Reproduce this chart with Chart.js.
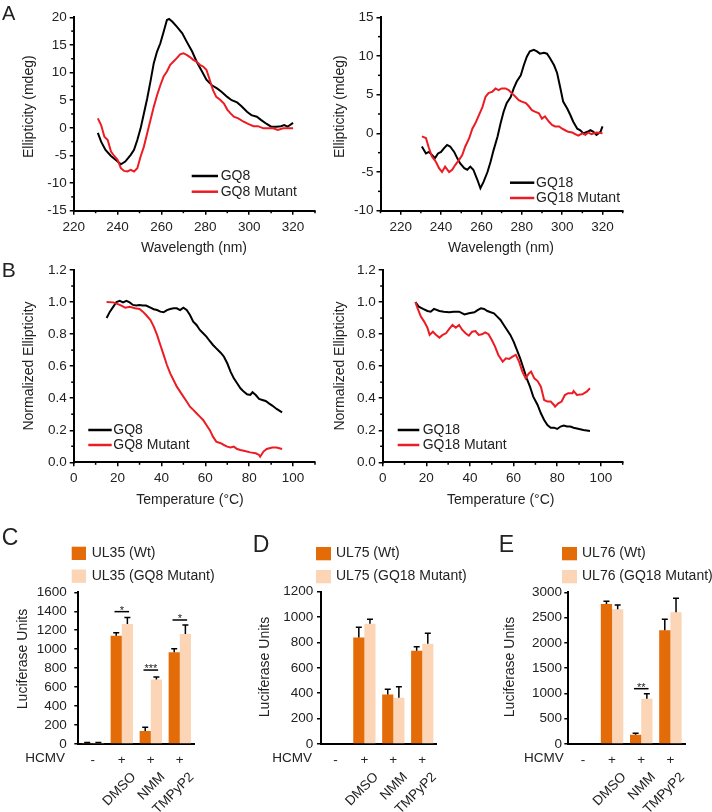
<!DOCTYPE html>
<html>
<head>
<meta charset="utf-8">
<script src="https://cdn.jsdelivr.net/npm/chart.js@4.4.1/dist/chart.umd.min.js"></script>
<style>
  body { margin: 0; background: #fff; width: 712px; height: 812px; position: relative; overflow: hidden; }
  canvas { position: absolute; }
</style>
</head>
<body>
<canvas id="a1"></canvas>
<canvas id="a2"></canvas>
<canvas id="b1"></canvas>
<canvas id="b2"></canvas>
<canvas id="c"></canvas>
<canvas id="d"></canvas>
<canvas id="e"></canvas>
<script>
// ---- panel A: CD spectra (wavelength nm / ellipticity mdeg)
const gq8Wl = [231,232.5,234.5,237,239.5,241.5,243.5,246,247.5,249,250.5,252,253.5,255,256.5,258,259.5,261,262.5,263.5,265,267,269.5,271.5,274,276,278.5,280.5,283,285.5,287.5,290,292,294.5,296.5,299,301,303.5,305.5,308,310,312.5,314.5,316,317.5,320];
const gq8Cd = [-0.9,-2.5,-4.0,-5.1,-5.9,-6.6,-6.1,-4.9,-4.0,-2.2,-0.1,2.6,5.3,8.4,11.7,13.8,15.3,17.4,19.5,19.7,19.2,18.3,17.1,15.6,13.8,12.0,10.2,8.7,7.7,7.1,6.5,5.6,5.0,4.6,3.9,2.9,2.3,2.0,1.4,0.7,0.2,0.2,0.3,0.5,0.2,0.9];
const gq8mWl = [231,232.5,234,235.5,237,238.5,240,241.5,243,244.5,246,247.5,249,250.5,252,253.5,255,256.5,258,259.5,261,262.5,264,265.5,267,268.5,270,271.5,273,274.5,276,277.5,279,280.5,282,283.5,285,287,288.5,290,291.5,293,295,297.5,299.5,302,304,306.5,308.5,311,313,315.5,317.5,320];
const gq8mCd = [1.7,0.5,-1.6,-2.2,-4.3,-5.1,-5.8,-7.3,-7.8,-7.9,-7.6,-7.9,-7.3,-5.2,-3.4,-1.0,1.4,3.8,5.9,7.7,9.3,10.2,11.4,12.0,12.6,13.3,13.5,13.2,12.8,12.3,12.0,11.4,11.1,10.5,8.7,6.8,5.6,5.0,4.4,3.3,2.6,2.0,1.7,1.1,0.7,0.3,0.3,-0.1,-0.1,-0.1,-0.4,-0.1,-0.1,-0.1];
const gq18Wl = [230.5,232.5,234,235.5,237,238.5,240,241.5,243,244.5,246.5,248,249.5,251.5,253,254.5,256,258,259.5,261,263,264.5,266,268,269.5,271,272.5,274.5,276,277.5,279.5,281,282.5,284,286,287.5,289,291,292.5,294,296,297.5,299,300.5,302.5,304,305.5,307.5,309,310.5,312.5,314,315.5,317,319,320];
const gq18Cd = [-1.7,-2.6,-2.4,-2.8,-3.2,-2.6,-2.4,-1.9,-1.5,-1.7,-2.4,-3.2,-3.9,-4.5,-4.7,-4.3,-4.7,-6.0,-7.1,-6.3,-5.0,-3.7,-2.2,-0.4,1.3,2.8,3.9,4.7,5.8,6.7,7.5,8.8,9.9,10.6,10.8,10.6,10.3,10.4,10.3,9.7,8.8,7.8,6.0,4.1,3.2,2.4,1.5,0.6,0.4,0.0,0.2,0.4,0.2,-0.2,0.2,0.9];
const gq18mWl = [230.5,232.5,234,235.5,237.5,239,240.5,242,244,245.5,247,249,250.5,252,254,255.5,257,258.5,260.5,262,263.5,265.5,267,268.5,270,272,273.5,275,277,278.5,280,282,283.5,285,286.5,288.5,290,291.5,293.5,295,296.5,298.5,300,301.5,303,305,306.5,308,310,311.5,313,314.5,317,320];
const gq18mCd = [-0.4,-0.6,-1.9,-3.0,-3.7,-4.5,-5.0,-4.3,-5.0,-4.7,-4.1,-3.4,-2.8,-1.7,-0.6,0.6,1.3,2.2,3.4,4.7,5.2,5.4,5.8,5.6,5.8,5.8,5.6,5.2,4.7,4.3,4.1,3.9,3.5,3.0,2.8,2.6,1.9,2.2,1.5,1.1,0.9,0.9,0.6,0.4,0.2,0.1,-0.1,-0.3,0.0,-0.2,0.1,-0.1,0.1,0.0];

// ---- panel B: melting curves (temperature / normalized ellipticity)
const gq8T = [15,16.5,18,19.5,21,22.5,24,25.5,27,28.5,30,31.5,33,35,36.5,38,39.5,41,42.5,44,45.5,47,48.5,50,51.5,53,54.5,56,57.5,59,60.5,62,63.5,65,67,68.5,70,71.5,73,74.5,76,77.5,79,80.5,81.5,83,84.5,86,87.5,89,90.5,92.5,95];
const gq8Norm = [0.90,0.94,0.97,1.0,1.007,0.998,1.007,0.998,0.982,0.978,0.982,0.978,0.978,0.965,0.955,0.950,0.940,0.936,0.950,0.957,0.961,0.961,0.950,0.965,0.950,0.919,0.878,0.857,0.826,0.805,0.784,0.757,0.732,0.711,0.684,0.659,0.618,0.566,0.524,0.493,0.462,0.441,0.424,0.420,0.437,0.420,0.395,0.389,0.383,0.368,0.354,0.333,0.312];
const gq8mT = [15,18,21,23.5,25.5,28,30,31.5,33,35,36.5,38,39.5,41,42.5,44,45.5,47,48.5,50,51.5,53,54.5,56,57.5,59,60.5,62,63.5,65,67,68.5,70,71.5,73,74.5,76,78,80.5,83,84.5,85,86.5,88,90.5,92.5,95];
const gq8mNorm = [1.0,0.998,0.982,0.965,0.971,0.961,0.957,0.940,0.919,0.888,0.847,0.795,0.732,0.670,0.607,0.555,0.514,0.472,0.441,0.410,0.379,0.347,0.327,0.306,0.285,0.264,0.233,0.202,0.160,0.129,0.119,0.108,0.098,0.092,0.098,0.083,0.077,0.071,0.062,0.056,0.046,0.035,0.067,0.083,0.092,0.092,0.083];
const gq18T = [15,16.5,18.5,20.5,22,23.5,26,28,30.5,32.5,35,37.5,39.5,42,43.5,45,46.5,48,49.5,51,52.5,54,55.5,57,58.5,60,61.5,63,64.5,66,67.5,69,71,72.5,74,75.5,77,78.5,80,81.5,83,84.5,86,87.5,90,92,95];
const gq18Norm = [1.0,0.971,0.957,0.944,0.940,0.957,0.944,0.940,0.936,0.940,0.940,0.923,0.930,0.936,0.950,0.961,0.957,0.944,0.936,0.930,0.909,0.888,0.857,0.826,0.795,0.753,0.701,0.649,0.587,0.524,0.472,0.410,0.358,0.306,0.264,0.233,0.216,0.216,0.208,0.223,0.229,0.223,0.223,0.216,0.208,0.202,0.196];
const gq18mT = [15,16,17.5,19,20.5,21.5,23,24.5,26,27.5,29,30.5,32,33.5,35,36.5,38,39.5,41,42.5,44,45.5,47,48.5,50,51.5,53,55,56.5,58,59.5,61,62.5,64,65.5,67,68,69.5,71,72.5,74,75.5,77,78.5,79,80.5,82,83.5,85,87,87.5,89,91.5,93.5,95];
const gq18mNorm = [1.0,0.961,0.909,0.878,0.840,0.795,0.815,0.795,0.778,0.795,0.805,0.832,0.857,0.840,0.857,0.826,0.805,0.790,0.815,0.819,0.795,0.799,0.811,0.799,0.763,0.722,0.670,0.628,0.649,0.645,0.659,0.670,0.628,0.566,0.524,0.555,0.566,0.524,0.507,0.472,0.389,0.379,0.379,0.358,0.347,0.368,0.379,0.420,0.431,0.431,0.445,0.420,0.424,0.441,0.462];

// tick labels
const wlTicks = [220,240,260,280,300,320];
const cdTicksA1 = [-15,-10,-5,0,5,10,15,20];
const cdTicksA2 = [-10,-5,0,5,10,15];
const tempTicks = [0,20,40,60,80,100];
const normTicks = [0,0.2,0.4,0.6,0.8,1.0,1.2];

// ---- panels C-E: luciferase assays
const hcmv = ['-','+','+','+'];
const drugs = ['','DMSO','NMM','TMPyP2'];
const ul35Wt = [10,1143,137,967];
const ul35WtErr = [5,31,39,38];
const ul35Mut = [12,1266,679,1160];
const ul35MutErr = [5,67,28,95];
const ul75Wt = [0,840,391,735];
const ul75WtErr = [0,79,40,32];
const ul75Mut = [0,948,365,790];
const ul75MutErr = [0,34,87,82];
const ul76Wt = [15,2769,185,2248];
const ul76WtErr = [0,53,26,218];
const ul76Mut = [15,2664,897,2604];
const ul76MutErr = [0,85,99,277];
const sigC = [[1,1396,'*'],[2,780,'***'],[3,1308,'*']];
const sigE = [[2,1094,'**']];

const FONT = '"Liberation Sans", Arial, sans-serif';
const BLACK = '#000', RED = '#ec1c24', DARK = '#e36c09', LIGHT = '#fbd5b5', TXT = '#222';
Chart.defaults.font.family = FONT;
Chart.defaults.font.size = 13.5;
Chart.defaults.color = TXT;
Chart.defaults.animation = false;

function place(id, box) {
  const c = document.getElementById(id);
  c.width = box[2]; c.height = box[3];
  c.style.left = box[0] + 'px'; c.style.top = box[1] + 'px';
  c.style.width = box[2] + 'px'; c.style.height = box[3] + 'px';
  return c;
}

function minorOf(ticks, min, max) {
  const step = ticks[1] - ticks[0], res = [];
  for (let v = ticks[0] - step / 2; v <= max + 1e-9; v += step) if (v >= min - 1e-9) res.push(v);
  return res;
}

// draws texts, legends, minor ticks, error bars ... in page coordinates
function makeDeco(box, spec) {
  return {
    id: 'deco',
    afterDraw(chart) {
      const ctx = chart.ctx, area = chart.chartArea, sx = chart.scales.x, sy = chart.scales.y;
      ctx.save();
      ctx.strokeStyle = BLACK; ctx.lineWidth = 1.5;
      (spec.minorX || []).forEach(v => {
        const p = sx.getPixelForValue(v);
        ctx.beginPath(); ctx.moveTo(p, area.bottom); ctx.lineTo(p, area.bottom + 2.5); ctx.stroke();
      });
      (spec.minorY || []).forEach(v => {
        const p = sy.getPixelForValue(v);
        ctx.beginPath(); ctx.moveTo(area.left, p); ctx.lineTo(area.left - 2.5, p); ctx.stroke();
      });
      // error bars
      (spec.err || []).forEach((errs, di) => {
        const meta = chart.getDatasetMeta(di), vals = chart.data.datasets[di].data;
        meta.data.forEach((bar, j) => {
          if (!errs[j]) return;
          const top = sy.getPixelForValue(vals[j] + errs[j]);
          ctx.beginPath();
          ctx.moveTo(bar.x, bar.y); ctx.lineTo(bar.x, top);
          ctx.moveTo(bar.x - 3, top); ctx.lineTo(bar.x + 3, top);
          ctx.stroke();
        });
      });
      // significance
      (spec.sig || []).forEach(([cat, v, mark]) => {
        const cx = sx.getPixelForValue(cat), py = sy.getPixelForValue(v);
        ctx.beginPath(); ctx.moveTo(cx - 7.3, py); ctx.lineTo(cx + 7.3, py); ctx.stroke();
        ctx.fillStyle = TXT; ctx.font = '11px ' + FONT;
        ctx.textAlign = 'center'; ctx.textBaseline = 'alphabetic';
        ctx.fillText(mark, cx, py + 2);
      });
      // rotated treatment labels
      (spec.drugs || []).forEach((t, i) => {
        if (!t) return;
        const cx = sx.getPixelForValue(i);
        ctx.save();
        ctx.translate(cx + 12, area.bottom + 31);
        ctx.rotate(-Math.PI / 4);
        ctx.fillStyle = TXT; ctx.font = '13.5px ' + FONT;
        ctx.textAlign = 'right'; ctx.textBaseline = 'middle';
        ctx.fillText(t, 0, 0);
        ctx.restore();
      });
      ctx.translate(-box[0], -box[1]);
      (spec.lines || []).forEach(([x1, y1, x2, y2, c]) => {
        ctx.strokeStyle = c; ctx.lineWidth = 2.5;
        ctx.beginPath(); ctx.moveTo(x1, y1); ctx.lineTo(x2, y2); ctx.stroke();
      });
      (spec.rects || []).forEach(([x, y, w, h, c]) => { ctx.fillStyle = c; ctx.fillRect(x, y, w, h); });
      (spec.texts || []).forEach(t => {
        ctx.save();
        ctx.font = (t.font || '14px') + ' ' + FONT;
        ctx.fillStyle = TXT;
        ctx.textAlign = t.align || 'center';
        ctx.textBaseline = t.base || 'middle';
        ctx.translate(t.x, t.y);
        if (t.rot) ctx.rotate(t.rot);
        ctx.fillText(t.t, 0, 0);
        ctx.restore();
      });
      ctx.restore();
    }
  };
}

function frame(box, plot) {
  return {
    yW: plot[0] - box[0],
    xH: box[1] + box[3] - plot[3],
    top: plot[2] - box[1],
    right: box[0] + box[2] - plot[1]
  };
}

function pts(xs, ys) { return xs.map((x, i) => ({ x: x, y: ys[i] })); }

function lineChart(id, box, plot, xr, xTicks, yr, yTicks, fmtY, series, spec) {
  const f = frame(box, plot);
  spec.minorX = minorOf(xTicks, xr[0], xr[1]);
  spec.minorY = minorOf(yTicks, yr[0], yr[1]);
  new Chart(place(id, box), {
    type: 'line',
    data: {
      datasets: series.map(s => ({
        data: pts(s[0], s[1]), borderColor: s[2], borderWidth: 2,
        pointRadius: 0, tension: 0, fill: false
      }))
    },
    options: {
      responsive: false, events: [],
      layout: { padding: { left: 0, top: f.top, right: f.right, bottom: 0 } },
      plugins: { legend: { display: false }, tooltip: { enabled: false } },
      scales: {
        x: {
          type: 'linear', min: xr[0], max: xr[1],
          afterBuildTicks: s => { s.ticks = xTicks.map(v => ({ value: v })); },
          afterFit: s => { s.height = f.xH; },
          ticks: { padding: 4, maxRotation: 0, autoSkip: false, callback: v => String(v) },
          grid: { drawOnChartArea: false, tickLength: 4, color: BLACK, lineWidth: 1.5 },
          border: { color: BLACK, width: 2 }
        },
        y: {
          min: yr[0], max: yr[1],
          afterBuildTicks: s => { s.ticks = yTicks.map(v => ({ value: v })); },
          afterFit: s => { s.width = f.yW; },
          ticks: { padding: 3, autoSkip: false, callback: fmtY },
          grid: { drawOnChartArea: false, tickLength: 4, color: BLACK, lineWidth: 1.5 },
          border: { color: BLACK, width: 2 }
        }
      }
    },
    plugins: [makeDeco(box, spec)]
  });
}

function barChart(id, box, plot, wt, mut, yMax, yStep, yPad, spec) {
  const f = frame(box, plot);
  new Chart(place(id, box), {
    type: 'bar',
    data: {
      labels: hcmv,
      datasets: [
        { data: wt, backgroundColor: DARK, categoryPercentage: 0.77, barPercentage: 1 },
        { data: mut, backgroundColor: LIGHT, categoryPercentage: 0.77, barPercentage: 1 }
      ]
    },
    options: {
      responsive: false, events: [],
      layout: { padding: { left: 0, top: f.top, right: f.right, bottom: 0 } },
      plugins: { legend: { display: false }, tooltip: { enabled: false } },
      scales: {
        x: {
          afterFit: s => { s.height = f.xH; },
          ticks: { padding: 8, maxRotation: 0 },
          grid: { display: false, drawTicks: false },
          border: { color: BLACK, width: 2 }
        },
        y: {
          min: 0, max: yMax,
          afterFit: s => { s.width = f.yW; },
          ticks: { stepSize: yStep, padding: yPad, autoSkip: false, callback: v => String(v) },
          grid: { drawOnChartArea: false, tickLength: 4, color: BLACK, lineWidth: 1.5 },
          border: { color: BLACK, width: 2 }
        }
      }
    },
    plugins: [makeDeco(box, spec)]
  });
}

const rot = -Math.PI / 2;
const fmtInt = v => String(v);
const fmt1 = v => v.toFixed(1);

lineChart('a1', [0, 0, 326, 255], [73.7, 315, 17.3, 210.7], [220, 330], wlTicks, [-15, 20], cdTicksA1, fmtInt,
  [[gq8mWl, gq8mCd, RED], [gq8Wl, gq8Cd, BLACK]],
  {
    lines: [[191.7, 176, 218, 176, BLACK], [191.7, 191.7, 218, 191.7, RED]],
    texts: [
      { t: 'A', x: 2, y: 20, font: '20px', align: 'left', base: 'alphabetic' },
      { t: 'Ellipticity (mdeg)', x: 28.8, y: 106.7, rot: rot },
      { t: 'Wavelength (nm)', x: 194, y: 248 },
      { t: 'GQ8', x: 220.7, y: 176, align: 'left' },
      { t: 'GQ8 Mutant', x: 220.7, y: 191.7, align: 'left' }
    ]
  });

lineChart('a2', [326, 0, 386, 255], [380.5, 622.7, 17.3, 210.7], [210, 330], wlTicks, [-10, 15], cdTicksA2, fmtInt,
  [[gq18mWl, gq18mCd, RED], [gq18Wl, gq18Cd, BLACK]],
  {
    lines: [[510, 182.7, 534.3, 182.7, BLACK], [510, 198, 534.3, 198, RED]],
    texts: [
      { t: 'Ellipticity (mdeg)', x: 340, y: 106.7, rot: rot },
      { t: 'Wavelength (nm)', x: 501, y: 248 },
      { t: 'GQ18', x: 536, y: 182.7, align: 'left' },
      { t: 'GQ18 Mutant', x: 536, y: 198, align: 'left' }
    ]
  });

lineChart('b1', [0, 255, 326, 262], [73.7, 315, 270, 462.3], [0, 110], tempTicks, [0, 1.2], normTicks, fmt1,
  [[gq8mT, gq8mNorm, RED], [gq8T, gq8Norm, BLACK]],
  {
    lines: [[88.3, 430, 111.7, 430, BLACK], [88.3, 445, 111.7, 445, RED]],
    texts: [
      { t: 'B', x: 1.7, y: 277, font: '21px', align: 'left', base: 'alphabetic' },
      { t: 'Normalized Ellipticity', x: 28.8, y: 366, rot: rot },
      { t: 'Temperature (°C)', x: 190, y: 500 },
      { t: 'GQ8', x: 113.3, y: 430, align: 'left' },
      { t: 'GQ8 Mutant', x: 113.3, y: 445, align: 'left' }
    ]
  });

lineChart('b2', [326, 255, 386, 262], [382.7, 622.7, 270, 462.3], [0, 110], tempTicks, [0, 1.2], normTicks, fmt1,
  [[gq18mT, gq18mNorm, RED], [gq18T, gq18Norm, BLACK]],
  {
    lines: [[397.7, 430, 419.3, 430, BLACK], [397.7, 445, 419.3, 445, RED]],
    texts: [
      { t: 'Normalized Ellipticity', x: 340, y: 366, rot: rot },
      { t: 'Temperature (°C)', x: 500.7, y: 500 },
      { t: 'GQ18', x: 422.7, y: 430, align: 'left' },
      { t: 'GQ18 Mutant', x: 422.7, y: 445, align: 'left' }
    ]
  });

barChart('c', [0, 520, 238, 292], [78.3, 194.3, 592.3, 744], ul35Wt, ul35Mut, 1600, 200, 7.5,
  {
    err: [ul35WtErr, ul35MutErr], sig: sigC, drugs: drugs,
    rects: [[71.7, 546.7, 14.3, 13.3, DARK], [71.7, 569.5, 14.3, 13.3, LIGHT]],
    texts: [
      { t: 'C', x: 1.7, y: 545, font: '23px', align: 'left', base: 'alphabetic' },
      { t: 'UL35 (Wt)', x: 91.7, y: 553.5, align: 'left' },
      { t: 'UL35 (GQ8 Mutant)', x: 91.7, y: 576.5, align: 'left' },
      { t: 'Luciferase Units', x: 23, y: 659, rot: rot },
      { t: 'HCMV', x: 65, y: 758, align: 'right', font: '13.5px' }
    ]
  });

barChart('d', [238, 520, 236, 292], [321, 436.7, 591.7, 744], ul75Wt, ul75Mut, 1200, 200, 3.7,
  {
    err: [ul75WtErr, ul75MutErr], drugs: drugs,
    rects: [[316, 547, 15, 13.3, DARK], [316, 570, 15, 13.3, LIGHT]],
    texts: [
      { t: 'D', x: 252.7, y: 551.7, font: '23px', align: 'left', base: 'alphabetic' },
      { t: 'UL75 (Wt)', x: 336, y: 553.5, align: 'left' },
      { t: 'UL75 (GQ18 Mutant)', x: 336, y: 576.5, align: 'left' },
      { t: 'Luciferase Units', x: 265, y: 667, rot: rot },
      { t: 'HCMV', x: 312, y: 758, align: 'right', font: '13.5px' }
    ]
  });

barChart('e', [474, 520, 238, 292], [568.3, 685, 592.3, 744], ul76Wt, ul76Mut, 3000, 500, 2.3,
  {
    err: [ul76WtErr, ul76MutErr], sig: sigE, drugs: drugs,
    rects: [[562, 547, 15, 13.3, DARK], [562, 570, 15, 13.3, LIGHT]],
    texts: [
      { t: 'E', x: 498.7, y: 551.7, font: '23px', align: 'left', base: 'alphabetic' },
      { t: 'UL76 (Wt)', x: 582, y: 553.5, align: 'left' },
      { t: 'UL76 (GQ18 Mutant)', x: 582, y: 576.5, align: 'left' },
      { t: 'Luciferase Units', x: 510, y: 667, rot: rot },
      { t: 'HCMV', x: 563.7, y: 758, align: 'right', font: '13.5px' }
    ]
  });
</script>
</body>
</html>
